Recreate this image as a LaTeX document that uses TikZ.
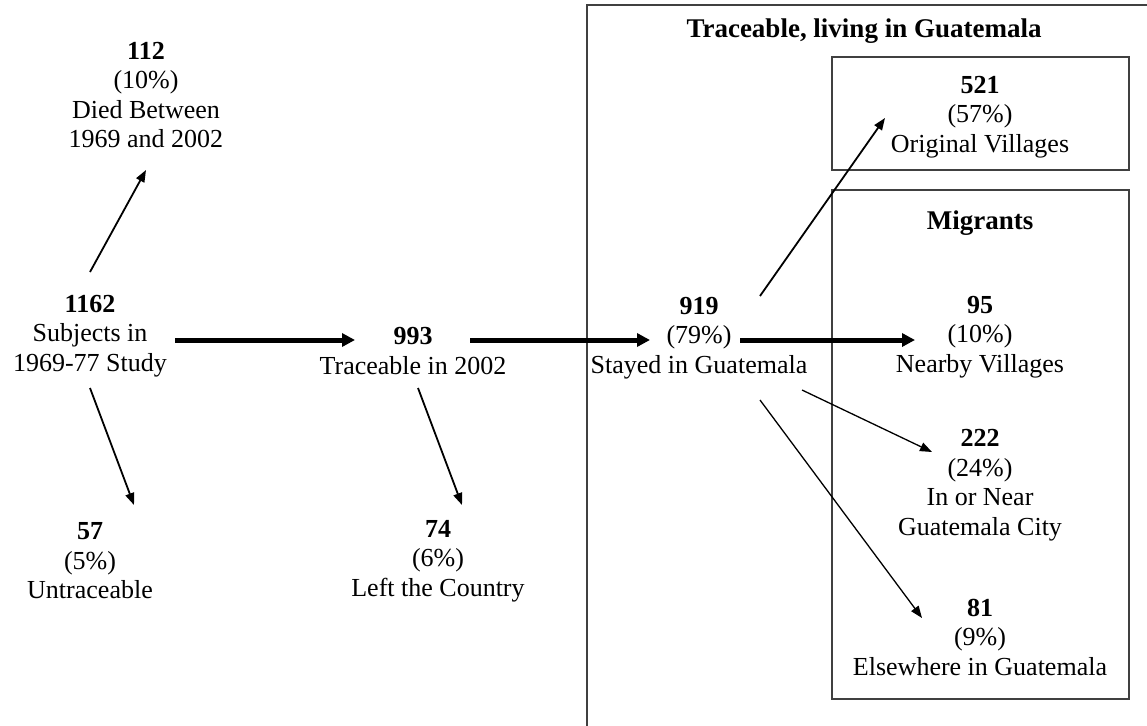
\documentclass[tikz,border=0pt]{standalone}
\usepackage{fontspec}
\setmainfont{Liberation Serif}
\usetikzlibrary{arrows.meta}
\begin{document}
\begin{tikzpicture}[x=1pt,y=-1pt,
  lbl/.style={align=center,inner sep=0pt,font=\fontsize{26}{29.5}\selectfont},
  ttl/.style={inner sep=0pt,font=\fontsize{27}{29.5}\selectfont\bfseries},
  thinarr/.style={line width=1.8pt,-{Triangle[length=12pt,width=9pt]}},
  slimarr/.style={line width=1.3pt,-{Triangle[length=12pt,width=9pt]}},
  fatarr/.style={line width=5pt,-{Triangle[length=13pt,width=13pt]}},
  frame/.style={draw=black!75,line width=1.3pt}]
\useasboundingbox (0,0) rectangle (1147,725);
% frames
\draw[frame] (1160,5) -- (587,5) -- (587,740);
\draw[frame] (832,57) rectangle (1129,170);
\draw[frame] (832,190) rectangle (1129,699);
% titles
\node[ttl] (tGuat) at (864,31) {Traceable, living in Guatemala};
\node[ttl] (tMig) at (980,223) {Migrants};
% nodes
\node[lbl] (n112) at (146,95) {\textbf{112}\\(10\%)\\Died Between\\1969 and 2002};
\node[lbl] (n1162) at (90,336) {\textbf{1162}\\Subjects in\\1969-77 Study};
\node[lbl] (n57) at (90,561) {\textbf{57}\\(5\%)\\Untraceable};
\node[lbl] (n993) at (413,351) {\textbf{993}\\Traceable in 2002};
\node[lbl] (n74) at (438,561) {\textbf{74}\\(6\%)\\Left the Country};
\node[lbl] (n919) at (699,338) {\textbf{919}\\(79\%)\\Stayed in Guatemala};
\node[lbl] (n521) at (980,117) {\textbf{521}\\(57\%)\\Original Villages};
\node[lbl] (n95) at (980,337) {\textbf{95}\\(10\%)\\Nearby Villages};
\node[lbl] (n222) at (980,485) {\textbf{222}\\(24\%)\\In or Near\\Guatemala City};
\node[lbl] (n81) at (980,637) {\textbf{81}\\(9\%)\\Elsewhere in Guatemala};
% connectors
\draw[thinarr] ([shift={(0,-64)}]n1162.center) -- ([shift={(0,75)}]n112.center);
\draw[thinarr] ([shift={(0,52)}]n1162.center) -- ([shift={(44,-56)}]n57.center);
\draw[fatarr] ([shift={(85,4)}]n1162.center) -- ([shift={(-58,-11)}]n993.center);
\draw[thinarr] ([shift={(5,37)}]n993.center) -- ([shift={(24,-56)}]n74.center);
\draw[fatarr] ([shift={(57,-11)}]n993.center) -- ([shift={(-49,2)}]n919.center);
\draw[thinarr] ([shift={(61,-42)}]n919.center) -- ([shift={(-95,1)}]n521.center);
\draw[fatarr] ([shift={(41,2)}]n919.center) -- ([shift={(-65,3)}]n95.center);
\draw[slimarr] ([shift={(103,52)}]n919.center) -- ([shift={(-48,-33)}]n222.center);
\draw[slimarr] ([shift={(61,62)}]n919.center) -- ([shift={(-58,-19)}]n81.center);
\end{tikzpicture}
\end{document}
